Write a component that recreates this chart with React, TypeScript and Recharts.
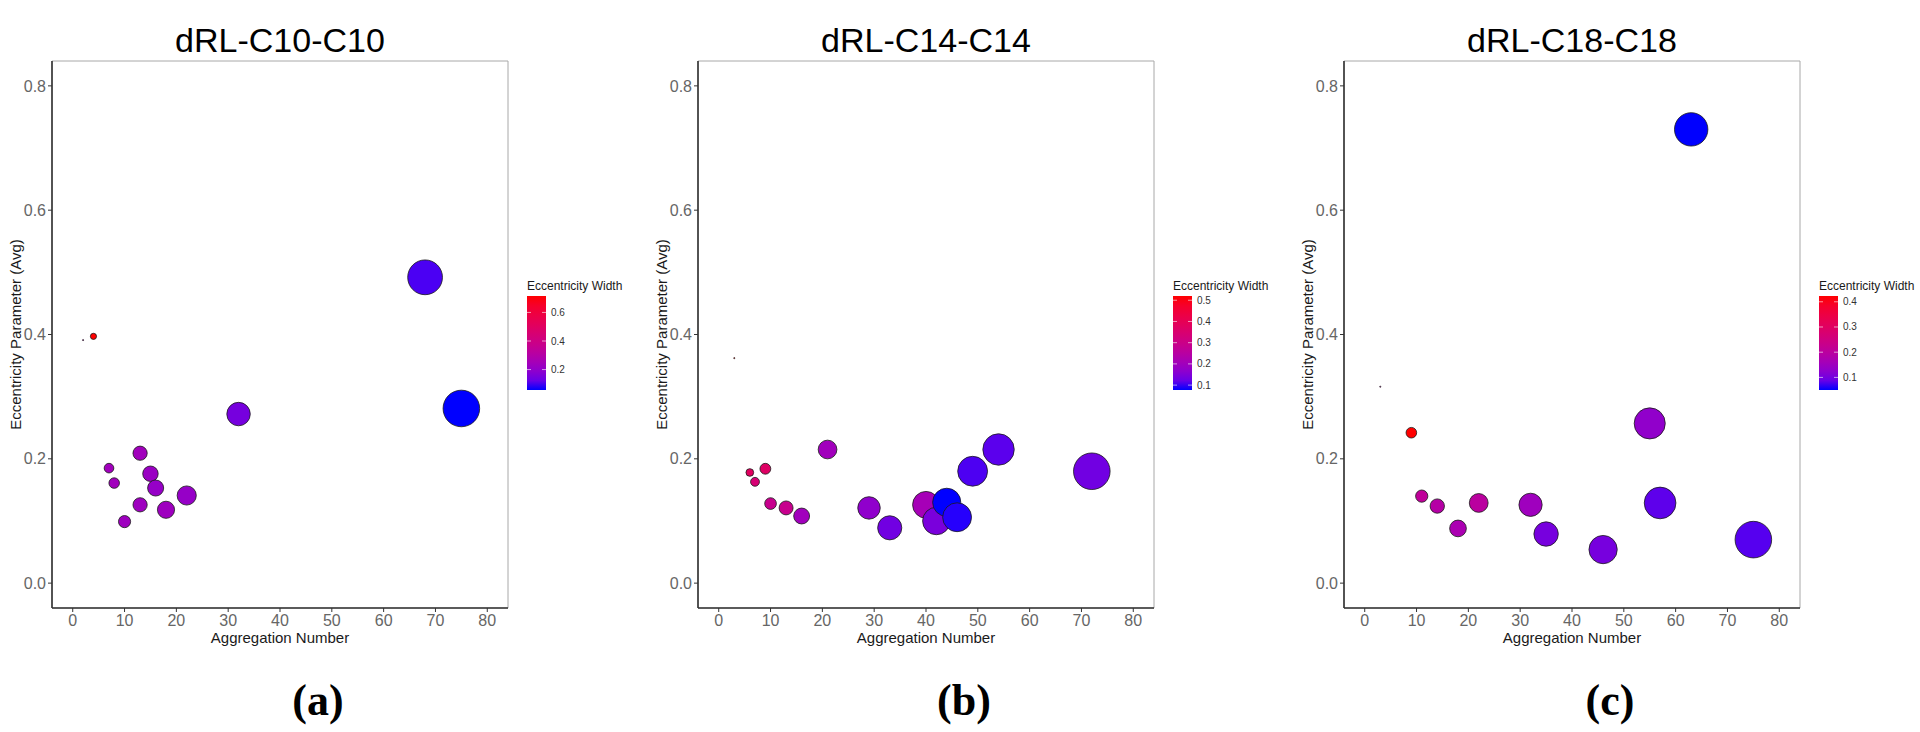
import { ScatterChart, Scatter, XAxis, YAxis, ZAxis, Cell, ReferenceArea } from "recharts";

// panel (a) dRL-C10-C10
const aggA = [2, 4, 7, 8, 10, 13, 13, 15, 16, 18, 22, 32, 68, 75];
const eccA = [0.391, 0.397, 0.185, 0.161, 0.099, 0.209, 0.126, 0.176, 0.153, 0.118, 0.141, 0.272, 0.492, 0.281];
const widthA = [0.3, 0.715, 0.24, 0.24, 0.23, 0.24, 0.23, 0.22, 0.21, 0.23, 0.21, 0.145, 0.09, 0.057];
const legendTicksA = [0.2, 0.4, 0.6];

// panel (b) dRL-C14-C14
const aggB = [3, 6, 7, 9, 10, 13, 16, 21, 29, 33, 40, 42, 44, 46, 49, 54, 72];
const eccB = [0.362, 0.178, 0.163, 0.184, 0.128, 0.121, 0.108, 0.215, 0.121, 0.089, 0.126, 0.1, 0.13, 0.106, 0.18, 0.215, 0.18];
const widthB = [0.52, 0.38, 0.34, 0.37, 0.29, 0.29, 0.2, 0.2, 0.17, 0.13, 0.21, 0.14, 0.077, 0.083, 0.1, 0.11, 0.13];
const legendTicksB = [0.1, 0.2, 0.3, 0.4, 0.5];

// panel (c) dRL-C18-C18
const aggC = [3, 9, 11, 14, 18, 22, 32, 35, 46, 55, 57, 63, 75];
const eccC = [0.316, 0.242, 0.14, 0.124, 0.088, 0.129, 0.126, 0.079, 0.054, 0.257, 0.129, 0.73, 0.07];
const widthC = [0.2, 0.423, 0.21, 0.19, 0.17, 0.2, 0.15, 0.1, 0.1, 0.13, 0.08, 0.05, 0.075];
const legendTicksC = [0.1, 0.2, 0.3, 0.4];

const xTicks = [0, 10, 20, 30, 40, 50, 60, 70, 80];
const yTicks = [0, 0.2, 0.4, 0.6, 0.8];

const SANS = "'Liberation Sans', Arial, Helvetica, sans-serif";

// blue -> red gradient interpolated in CIELAB (like ggplot's scale_colour_gradient)
const toLin = (c: number) => (c <= 0.04045 ? c / 12.92 : Math.pow((c + 0.055) / 1.055, 2.4));
const fromLin = (c: number) => (c <= 0.0031308 ? 12.92 * c : 1.055 * Math.pow(c, 1 / 2.4) - 0.055);
const WX = 0.95047, WZ = 1.08883;
function rgbToLab(rgb: number[]) {
  const [r, g, b] = rgb.map((v) => toLin(v / 255));
  const x = (0.4124 * r + 0.3576 * g + 0.1805 * b) / WX;
  const y = 0.2126 * r + 0.7152 * g + 0.0722 * b;
  const z = (0.0193 * r + 0.1192 * g + 0.9505 * b) / WZ;
  const f = (t: number) => (t > 0.008856 ? Math.cbrt(t) : 7.787 * t + 16 / 116);
  const fx = f(x), fy = f(y), fz = f(z);
  return [116 * fy - 16, 500 * (fx - fy), 200 * (fy - fz)];
}
function labToHex(lab: number[]) {
  const fy = (lab[0] + 16) / 116;
  const fx = fy + lab[1] / 500;
  const fz = fy - lab[2] / 200;
  const inv = (t: number) => (t ** 3 > 0.008856 ? t ** 3 : (t - 16 / 116) / 7.787);
  const x = inv(fx) * WX, y = inv(fy), z = inv(fz) * WZ;
  const r = 3.2406 * x - 1.5372 * y - 0.4986 * z;
  const g = -0.9689 * x + 1.8758 * y + 0.0415 * z;
  const b = 0.0557 * x - 0.204 * y + 1.057 * z;
  return (
    "#" +
    [r, g, b]
      .map((c) => Math.round(Math.min(1, Math.max(0, fromLin(Math.min(1, Math.max(0, c))))) * 255))
      .map((v) => v.toString(16).padStart(2, "0"))
      .join("")
  );
}
const LOW = rgbToLab([0, 0, 255]);
const HIGH = rgbToLab([255, 0, 0]);
const ramp = (t: number) => labToHex(LOW.map((v, i) => v + (HIGH[i] - v) * Math.min(1, Math.max(0, t))));

type PanelProps = {
  id: string;
  title: string;
  tag: string;
  left: number;
  agg: number[];
  ecc: number[];
  width: number[];
  legendTicks: number[];
};

function Panel({ id, title, tag, left, agg, ecc, width, legendTicks }: PanelProps) {
  const data = agg.map((a, i) => ({ agg: a, ecc: ecc[i], w: width[i] }));
  const lo = Math.min(...width);
  const hi = Math.max(...width);
  const barTop = 296, barBottom = 390, barX = 527, barW = 19;
  const gid = "colourbar" + id;
  const stops = Array.from({ length: 11 }, (_, i) => i / 10);
  const plotCx = 280;

  return (
    <div style={{ position: "absolute", left, top: 0, width: 640, height: 732 }}>
      <ScatterChart width={640} height={732} margin={{ top: 61, right: 132, bottom: 94, left: 0 }}>
        <ReferenceArea x1={-4} x2={84} y1={-0.04} y2={0.84} fill="none" stroke="#a8a8a8" strokeWidth={1} />
        <XAxis
          type="number"
          dataKey="agg"
          domain={[-4, 84]}
          ticks={xTicks}
          allowDataOverflow
          height={30}
          tickSize={4}
          tickMargin={3}
          axisLine={{ stroke: "#333", strokeWidth: 1.6 }}
          tickLine={{ stroke: "#333" }}
          tick={{ fill: "#666", fontSize: 16, fontFamily: SANS }}
        />
        <YAxis
          type="number"
          dataKey="ecc"
          domain={[-0.04, 0.84]}
          ticks={yTicks}
          allowDataOverflow
          width={52}
          tickSize={4}
          tickMargin={2}
          tickFormatter={(v) => Number(v).toFixed(1)}
          axisLine={{ stroke: "#333", strokeWidth: 1.6 }}
          tickLine={{ stroke: "#333" }}
          tick={{ fill: "#666", fontSize: 16, fontFamily: SANS }}
        />
        <ZAxis type="number" dataKey="agg" domain={[Math.min(...agg), Math.max(...agg)]} range={[1, 1050]} />
        <Scatter data={data} isAnimationActive={false} stroke="#1a1a1a" strokeWidth={0.8}>
          {data.map((d, i) => (
            <Cell key={i} fill={ramp((d.w - lo) / (hi - lo))} />
          ))}
        </Scatter>
      </ScatterChart>
      <svg width={640} height={732} style={{ position: "absolute", left: 0, top: 0, pointerEvents: "none" }}>
        <defs>
          <linearGradient id={gid} x1="0" y1="1" x2="0" y2="0">
            {stops.map((s) => (
              <stop key={s} offset={s} stopColor={ramp(s)} />
            ))}
          </linearGradient>
        </defs>
        <text x={plotCx} y={52} textAnchor="middle" fontSize={34} fontFamily={SANS} fill="#000">
          {title}
        </text>
        <text x={plotCx} y={643} textAnchor="middle" fontSize={15} fontFamily={SANS} fill="#1a1a1a">
          Aggregation Number
        </text>
        <text
          transform="translate(15.5,334.5) rotate(-90)"
          textAnchor="middle"
          dominantBaseline="central"
          fontSize={15}
          fontFamily={SANS}
          fill="#1a1a1a"
        >
          Eccentricity Parameter (Avg)
        </text>
        <text x={barX} y={289.5} fontSize={12} fontFamily={SANS} fill="#1a1a1a">
          Eccentricity Width
        </text>
        <rect x={barX} y={barTop} width={barW} height={barBottom - barTop} fill={`url(#${gid})`} />
        {legendTicks.map((v) => {
          const y = barBottom - ((v - lo) / (hi - lo)) * (barBottom - barTop);
          return (
            <g key={v}>
              <line x1={barX} x2={barX + 4} y1={y} y2={y} stroke="#fff" strokeOpacity={0.6} />
              <line x1={barX + barW - 4} x2={barX + barW} y1={y} y2={y} stroke="#fff" strokeOpacity={0.6} />
              <text x={barX + barW + 5} y={y} dominantBaseline="central" fontSize={10} fontFamily={SANS} fill="#333">
                {v.toFixed(1)}
              </text>
            </g>
          );
        })}
        <text x={318} y={715} textAnchor="middle" fontSize={44} fontWeight="bold" fontFamily="'Liberation Serif', 'Times New Roman', serif" fill="#000">
          {tag}
        </text>
      </svg>
    </div>
  );
}

export default function App() {
  return (
    <div style={{ position: "absolute", left: 0, top: 0, width: 1920, height: 732, background: "#fff", overflow: "hidden" }}>
      <Panel id="A" title="dRL-C10-C10" tag="(a)" left={0} agg={aggA} ecc={eccA} width={widthA} legendTicks={legendTicksA} />
      <Panel id="B" title="dRL-C14-C14" tag="(b)" left={646} agg={aggB} ecc={eccB} width={widthB} legendTicks={legendTicksB} />
      <Panel id="C" title="dRL-C18-C18" tag="(c)" left={1292} agg={aggC} ecc={eccC} width={widthC} legendTicks={legendTicksC} />
    </div>
  );
}
